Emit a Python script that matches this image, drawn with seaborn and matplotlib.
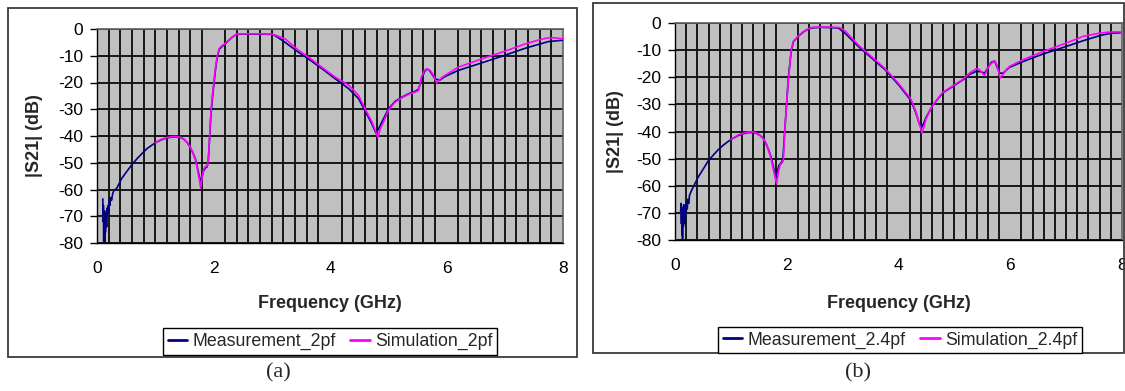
import numpy as np
import pandas as pd
import matplotlib
matplotlib.use("Agg")
import matplotlib.pyplot as plt
import seaborn as sns
from matplotlib.patches import Rectangle

# ---------------- data ----------------
meas_a_f = [0.10, 0.105, 0.11, 0.115, 0.12, 0.125, 0.13, 0.135, 0.14, 0.145, 0.15, 0.155, 0.16, 0.165,
            0.17, 0.18, 0.19, 0.20, 0.21, 0.22, 0.235, 0.25, 0.27, 0.29, 0.34, 0.42, 0.51, 0.60, 0.69,
            0.78, 0.86, 0.95, 1.03, 1.12, 1.20, 1.29, 1.37, 1.43, 1.49, 1.55, 1.60, 1.65, 1.69, 1.72,
            1.75, 1.78, 1.80, 1.83, 1.86, 1.89, 1.91, 1.93, 1.95, 1.97, 1.99, 2.01, 2.04, 2.07, 2.10,
            2.15, 2.20, 2.25, 2.30, 2.35, 2.40, 2.50, 2.75, 3.00, 3.06, 3.23, 3.46, 3.63, 3.86, 4.09,
            4.32, 4.49, 4.60, 4.72, 4.79, 4.84, 4.92, 5.00, 5.12, 5.26, 5.37, 5.46, 5.52, 5.57, 5.62,
            5.66, 5.70, 5.74, 5.80, 5.88, 5.97, 6.20, 6.60, 6.95, 7.35, 7.75, 8.00]
meas_a_db = [-63.5, -72, -66, -79.5, -70, -75, -68, -80, -71, -76, -69, -73, -70, -74,
             -67, -70, -66, -68, -64.5, -66, -63, -64, -61.5, -60.5, -59.5, -56, -53.3, -50.7, -48.4,
             -46.4, -44.7, -43.3, -42.2, -41.3, -40.7, -40.4, -40.3, -40.5, -41.2, -42.5, -44.2, -46.5, -48.6, -51.5,
             -54.5, -57, -55.5, -53, -52, -51.5, -49.5, -42, -34, -28.5, -24, -20, -14, -10, -7.5,
             -6.5, -5.6, -4.5, -3.5, -2.6, -2.0, -1.9, -1.9, -2.0, -2.5, -5, -8.7, -11.2, -14.8, -18.6,
             -22.3, -26, -30.5, -35.5, -39, -37, -33.5, -30, -27, -25.2, -24, -23.3, -22.5, -19, -16,
             -15, -15.3, -16.5, -18.5, -19.2, -17.8, -15.5, -12.7, -10.2, -7.2, -4.7, -4.2]

sim_a_f = [1.00, 1.10, 1.20, 1.30, 1.37, 1.45, 1.50, 1.55, 1.60, 1.65, 1.69, 1.72, 1.75, 1.78, 1.80,
           1.83, 1.86, 1.90, 1.92, 1.94, 1.96, 1.98, 2.00, 2.03, 2.06, 2.10, 2.15, 2.20, 2.25, 2.30,
           2.35, 2.40, 2.60, 2.80, 3.00, 3.10, 3.23, 3.46, 3.63, 3.86, 4.09, 4.32, 4.49, 4.60, 4.72,
           4.78, 4.82, 4.87, 4.92, 5.00, 5.12, 5.26, 5.37, 5.46, 5.52, 5.57, 5.62, 5.66, 5.72, 5.78,
           5.83, 5.90, 5.97, 6.20, 6.60, 6.95, 7.35, 7.60, 7.75, 7.85, 8.00]
sim_a_db = [-42.5, -41.3, -40.6, -40.2, -40.2, -40.6, -41.3, -42.5, -44.2, -46.5, -49, -52, -55.5, -59.5, -56,
            -52.5, -51.5, -51, -46, -37, -30, -25, -21, -15, -10.5, -7.2, -6.2, -5.4, -4.4, -3.4,
            -2.5, -1.9, -1.8, -1.8, -1.9, -2.6, -3.7, -8, -10.5, -14.3, -18, -21, -24.8, -29.8, -34.7,
            -38, -40.5, -37, -34.7, -30.4, -27.3, -25.4, -24.2, -23.6, -23, -18, -15.5, -14.9, -15.5, -17.4,
            -20.1, -18.5, -17.4, -14.3, -11.2, -8.7, -5.6, -4.0, -3.3, -3.3, -3.7]

meas_b_f = [0.10, 0.11, 0.115, 0.12, 0.125, 0.13, 0.135, 0.14, 0.15, 0.155, 0.16, 0.17, 0.18, 0.19,
            0.20, 0.21, 0.22, 0.23, 0.245, 0.26, 0.29, 0.35, 0.41, 0.50, 0.59, 0.68, 0.77, 0.86, 0.95,
            1.04, 1.13, 1.22, 1.31, 1.40, 1.46, 1.52, 1.58, 1.63, 1.67, 1.72, 1.76, 1.80, 1.83, 1.86,
            1.90, 1.93, 1.95, 1.97, 1.99, 2.01, 2.03, 2.05, 2.08, 2.12, 2.18, 2.24, 2.30, 2.36, 2.45,
            2.60, 2.80, 2.93, 3.05, 3.29, 3.53, 3.77, 4.01, 4.22, 4.31, 4.37, 4.41, 4.45, 4.49, 4.61,
            4.79, 4.97, 5.15, 5.27, 5.39, 5.48, 5.54, 5.60, 5.66, 5.72, 5.77, 5.81, 5.87, 5.99, 6.23,
            6.59, 6.95, 7.31, 7.61, 7.80, 7.97]
meas_b_db = [-70, -66.5, -74, -68, -78, -70, -80, -69, -75, -67, -72, -68, -74, -67,
             -70, -66, -68.5, -65, -66.5, -63.5, -62, -59.5, -57, -54, -51, -48.8, -46.8, -45.1, -43.7,
             -42.5, -41.5, -40.8, -40.4, -40.4, -40.7, -41.4, -42.6, -44.5, -46.5, -49.5, -53, -57, -55, -52.5,
             -51.5, -50.5, -44, -38, -32, -26, -20, -16, -10.5, -6.8, -5.5, -4.3, -3.3, -2.5, -1.8,
             -1.6, -1.7, -1.9, -3.9, -8.8, -13.1, -17.4, -23, -28.5, -33, -37, -38.6, -37, -35, -30.4,
             -25.8, -23.4, -21, -19, -17.8, -18, -18.5, -16.5, -14.5, -14, -16.5, -18.5, -18.5, -16.3, -14.2,
             -11.4, -9, -6.5, -4.6, -3.8, -3.6]

sim_b_f = [1.00, 1.13, 1.22, 1.31, 1.40, 1.46, 1.52, 1.58, 1.63, 1.67, 1.72, 1.76, 1.82, 1.85, 1.88,
           1.92, 1.94, 1.96, 1.98, 2.00, 2.02, 2.04, 2.06, 2.08, 2.12, 2.18, 2.24, 2.30, 2.36, 2.45,
           2.60, 2.80, 2.95, 3.05, 3.29, 3.53, 3.77, 4.01, 4.22, 4.31, 4.37, 4.42, 4.46, 4.49, 4.61,
           4.79, 4.97, 5.15, 5.27, 5.39, 5.45, 5.50, 5.54, 5.59, 5.63, 5.72, 5.76, 5.82, 5.87, 5.93,
           5.99, 6.23, 6.59, 6.95, 7.31, 7.61, 7.80, 7.97]
sim_b_db = [-43, -41.3, -40.6, -40.2, -40.2, -40.6, -41.4, -42.6, -44.5, -46.5, -50, -54, -59.3, -55, -52.3,
            -51.5, -50.5, -42, -35, -29, -23, -19, -14, -10, -6.8, -5.4, -4.2, -3.2, -2.4, -1.6,
            -1.5, -1.5, -1.7, -3.0, -8.3, -12.6, -17, -22.5, -28, -32.6, -37, -40.6, -38, -35.5, -30.4,
            -25.6, -23.2, -20.8, -18.5, -16.9, -17.2, -18.5, -19.3, -17, -15.5, -13.9, -15.5, -20.3, -19, -17.2,
            -16, -13.5, -10.5, -7.8, -4.9, -3.7, -3.3, -3.3]

x_ticks = [0, 2, 4, 6, 8]
y_ticks = [0, -10, -20, -30, -40, -50, -60, -70, -80]
x_label = "Frequency (GHz)"
y_label = "|S21| (dB)"
legend_a = ["Measurement_2pf", "Simulation_2pf"]
legend_b = ["Measurement_2.4pf", "Simulation_2.4pf"]
captions = ["(a)", "(b)"]

# ---------------- styling ----------------
sns.set_style("white")
plt.rcParams["font.family"] = ["Liberation Sans", "DejaVu Sans"]

W, H = 1125, 391
fig = plt.figure(figsize=(W / 100, H / 100), dpi=100)


def fx(px):
    return px / W


def fy(py):
    return 1 - py / H


# outer panel boxes
for (x0, y0, x1, y1) in [(8, 8, 577, 357), (593, 3, 1124, 353)]:
    fig.patches.append(Rectangle((fx(x0), fy(y1)), fx(x1) - fx(x0), fy(y0) - fy(y1),
                                 transform=fig.transFigure, fill=False,
                                 edgecolor="#3a3a3a", linewidth=1.3, zorder=0))

NAVY = "#000080"
MAG = "#FF00FF"
GREY = "#C0C0C0"

panels = [
    dict(rect=(97, 29, 563, 243), mf=meas_a_f, md=meas_a_db, sf=sim_a_f, sd=sim_a_db,
         leg=legend_a, legpos=(330, 341.5), cap=captions[0], cappos=(278, 373)),
    dict(rect=(675, 23, 1122, 240), mf=meas_b_f, md=meas_b_db, sf=sim_b_f, sd=sim_b_db,
         leg=legend_b, legpos=(900, 340), cap=captions[1], cappos=(858, 373)),
]

for p in panels:
    l, t, r, b = p["rect"]
    ax = fig.add_axes([fx(l), fy(b), fx(r) - fx(l), fy(t) - fy(b)])
    ax.set_facecolor(GREY)

    dm = pd.DataFrame({"f": p["mf"], "db": p["md"]})
    ds = pd.DataFrame({"f": p["sf"], "db": p["sd"]})
    sns.lineplot(data=dm, x="f", y="db", ax=ax, color=NAVY, lw=1.2, sort=False,
                 estimator=None, label=p["leg"][0], zorder=3)
    sns.lineplot(data=ds, x="f", y="db", ax=ax, color=MAG, lw=1.2, sort=False,
                 estimator=None, label=p["leg"][1], zorder=4)

    ax.set_xlim(0, 8)
    ax.set_ylim(-80, 0)
    ax.set_xticks(x_ticks)
    ax.set_xticks(np.arange(0, 8.001, 0.2), minor=True)
    ax.set_yticks(y_ticks)
    ax.set_xticklabels([str(v) for v in x_ticks])
    ax.set_yticklabels([str(v) for v in y_ticks])

    ax.grid(False)
    ax.xaxis.grid(True, which="minor", color="#111111", linewidth=1.35, zorder=1)
    ax.yaxis.grid(True, which="major", color="#111111", linewidth=1.35, zorder=1)
    ax.set_axisbelow(True)

    ax.tick_params(axis="x", which="both", length=0, pad=13, labelsize=12.5, colors="black")
    ax.tick_params(axis="y", which="major", length=5, width=1, direction="out", left=True,
                   pad=5, labelsize=12.5, colors="black")

    for s in ["left", "bottom"]:
        ax.spines[s].set_color("black")
        ax.spines[s].set_linewidth(1.0)
    for s in ["top", "right"]:
        ax.spines[s].set_color("#606060")
        ax.spines[s].set_linewidth(1.2)

    ax.set_xlabel(x_label, fontsize=13, fontweight="bold")
    ax.set_ylabel(y_label, fontsize=13, fontweight="bold")
    ax.xaxis.set_label_coords(0.5, (b - 295) / (b - t))
    ax.yaxis.set_label_coords(-0.115, 0.5)

    handles, labels = ax.get_legend_handles_labels()
    ax.get_legend().remove()
    leg = fig.legend(handles, labels, loc="center",
                     bbox_to_anchor=(fx(p["legpos"][0]), fy(p["legpos"][1])),
                     ncol=2, fontsize=12.8, frameon=True, fancybox=False, shadow=False,
                     framealpha=1, edgecolor="black", facecolor="white",
                     handlelength=1.1, handletextpad=0.3, columnspacing=0.8,
                     borderpad=0.25, borderaxespad=0)
    leg.get_frame().set_linewidth(1.0)
    for lh in leg.get_lines():
        lh.set_linewidth(2)

    fig.text(fx(p["cappos"][0]), fy(p["cappos"][1]), p["cap"], ha="center", va="center",
             fontsize=16, family=["Liberation Serif", "DejaVu Serif"])

fig.savefig("out.png", dpi=100)
